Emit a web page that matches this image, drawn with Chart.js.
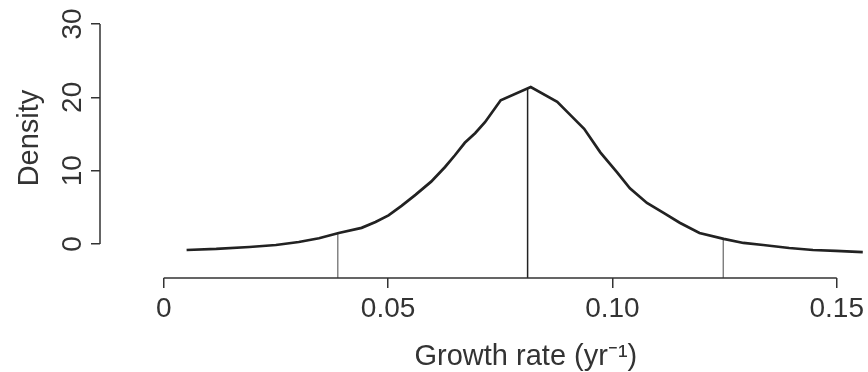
<!DOCTYPE html>
<html>
<head>
<meta charset="utf-8">
<script src="https://cdn.jsdelivr.net/npm/chart.js@4/dist/chart.umd.min.js"></script>
<style>
  html, body { margin: 0; padding: 0; background: #fff; }
  #wrap { width: 868px; height: 372px; }
</style>
</head>
<body>
<div id="wrap"><canvas id="densityChart" width="868" height="372"></canvas></div>
<script>
    // density curve
    const growthRate = [0.0051, 0.0117, 0.0191, 0.0250, 0.0301, 0.0346, 0.0390, 0.0441, 0.0472, 0.0501, 0.0530, 0.0561, 0.0596, 0.0627, 0.0649, 0.0671, 0.0694, 0.0716, 0.0751, 0.0818, 0.0877, 0.0906, 0.0937, 0.0973, 0.1010, 0.1039, 0.1077, 0.1115, 0.1150, 0.1194, 0.1248, 0.1292, 0.1336, 0.1394, 0.1447, 0.1498, 0.1558];
    const density = [-0.82, -0.68, -0.41, -0.14, 0.27, 0.78, 1.5, 2.2, 3.0, 3.9, 5.2, 6.7, 8.5, 10.5, 12.1, 13.8, 15.1, 16.6, 19.6, 21.4, 19.4, 17.6, 15.7, 12.5, 9.8, 7.6, 5.6, 4.2, 2.9, 1.5, 0.7, 0.14, -0.14, -0.55, -0.82, -0.95, -1.1];

    // lower bound, median, upper bound
    const markX = [0.0388, 0.0811, 0.1247];
    const markTop = [1.5, 21.2, 0.55];

    const xTicks = [0, 0.05, 0.10, 0.15];
    const xTickLabels = ['0', '0.05', '0.10', '0.15'];
    const yTicks = [0, 10, 20, 30];
    const yTickLabels = ['0', '10', '20', '30'];

    const xTitle = 'Growth rate (yr\u207B\u00B9)';
    const yTitle = 'Density';

    const X_MIN = -0.0142, X_MAX = 0.156;
    const Y_MIN = -4.64, Y_MAX = 30;
    const ink = '#333';
    const fontFamily = '"Liberation Sans", Arial, Helvetica, sans-serif';

    const curve = growthRate.map((x, i) => ({ x, y: density[i] }));

    const markSets = markX.map((x, i) => ({
      data: [{ x, y: Y_MIN }, { x, y: markTop[i] }],
      borderColor: i === 1 ? '#222' : '#666',
      borderWidth: i === 1 ? 1.5 : 1.2,
      pointRadius: 0,
      tension: 0
    }));

    // R style detached axes and titles
    const rAxes = {
      id: 'rAxes',
      afterDraw(chart) {
        const { ctx, chartArea, scales: { x, y } } = chart;
        ctx.save();
        ctx.strokeStyle = ink;
        ctx.lineWidth = 1.5;
        ctx.beginPath();
        ctx.moveTo(chartArea.left, y.getPixelForValue(yTicks[0]));
        ctx.lineTo(chartArea.left, y.getPixelForValue(yTicks[yTicks.length - 1]));
        ctx.moveTo(x.getPixelForValue(xTicks[0]), chartArea.bottom);
        ctx.lineTo(x.getPixelForValue(xTicks[xTicks.length - 1]), chartArea.bottom);
        ctx.stroke();

        ctx.fillStyle = ink;
        ctx.font = '29px ' + fontFamily;
        ctx.textAlign = 'center';
        ctx.textBaseline = 'alphabetic';
        const cx = (x.getPixelForValue(xTicks[0]) + chart.width) / 2 + 10;
        ctx.fillText(xTitle, cx, 365);

        const cy = (y.getPixelForValue(yTicks[0]) + y.getPixelForValue(yTicks[yTicks.length - 1])) / 2 + 4;
        ctx.translate(30, cy);
        ctx.rotate(-Math.PI / 2);
        ctx.textBaseline = 'middle';
        ctx.fillText(yTitle, 0, 0);
        ctx.restore();
      }
    };

    const ctx = document.getElementById('densityChart').getContext('2d');
    const chart = new Chart(ctx, {
      type: 'line',
      data: {
        datasets: [
          {
            data: curve,
            borderColor: '#222',
            borderWidth: 2.7,
            pointRadius: 0,
            tension: 0
          },
          ...markSets
        ]
      },
      options: {
        responsive: false,
        animation: false,
        layout: { padding: { top: 24, right: 0, bottom: 0, left: 0 } },
        plugins: {
          legend: { display: false },
          tooltip: { enabled: false }
        },
        scales: {
          x: {
            type: 'linear',
            min: X_MIN,
            max: X_MAX,
            afterBuildTicks: s => { s.ticks = xTicks.map(v => ({ value: v })); },
            afterFit: s => { s.height = 94; },
            border: { display: false },
            grid: { drawOnChartArea: false, drawTicks: true, tickLength: 10, color: ink, lineWidth: 1.5 },
            ticks: {
              autoSkip: false,
              maxRotation: 0,
              padding: 4,
              color: ink,
              font: { size: 28, family: fontFamily },
              callback: (v, i) => xTickLabels[i]
            }
          },
          y: {
            min: Y_MIN,
            max: Y_MAX,
            afterBuildTicks: s => { s.ticks = yTicks.map(v => ({ value: v })); },
            afterFit: s => { s.width = 100; },
            border: { display: false },
            grid: { drawOnChartArea: false, drawTicks: true, tickLength: 9, color: ink, lineWidth: 1.5 },
            ticks: {
              minRotation: 90,
              maxRotation: 90,
              crossAlign: 'center',
              padding: 2,
              color: ink,
              font: { size: 28, family: fontFamily },
              callback: (v, i) => yTickLabels[i]
            }
          }
        }
      },
      plugins: [rAxes]
    });
</script>
</body>
</html>
